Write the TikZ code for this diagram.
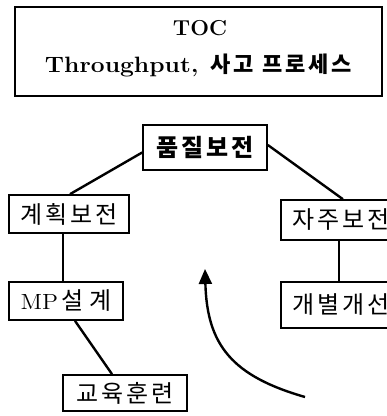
\documentclass[tikz,border=0pt]{standalone}
\usepackage{fontspec}
\newfontfamily\kr{Noto Sans CJK KR}
\newcommand\kgap{\hspace{3pt}}
\usetikzlibrary{arrows.meta}
\begin{document}
\begin{tikzpicture}[x=1pt,y=-1pt,
  box/.style={draw,line width=1.7pt,inner sep=0pt,font=\kr\fontsize{24}{26}\selectfont},
  conn/.style={line width=2.4pt},
  ttl/.style={anchor=base,inner sep=0pt,font=\bfseries\fontsize{12}{14}\selectfont}]
\useasboundingbox (0,0) rectangle (387,416);
\clip (0,0) rectangle (387,416);
\fill[white] (0,0) rectangle (387,416);
% title box
\node[draw,line width=1.7pt,minimum width=367pt,minimum height=89pt,inner sep=0pt] (title) at (198.5,51.5) {};
\node[ttl] (toc) at (200,35) {\scalebox{1.85}[1.8]{TOC}};
\node[ttl] (thr) at (198.5,72) {\scalebox{2.05}[1.85]{Throughput,}\hspace{12pt}{\kr\fontsize{22}{24}\selectfont 사\kgap 고\hspace{8pt}프\kgap 로\kgap 세\kgap 스}};
% boxes
\node[box,minimum width=124pt,minimum height=45pt,font=\kr\bfseries\fontsize{24}{26}\selectfont] (pq) at (205,147.5) {품\kgap 질\kgap 보\kgap 전};
\node[box,minimum width=120pt,minimum height=38pt] (kh) at (69,214) {계\kgap 획\kgap 보\kgap 전};
\node[box,minimum width=120pt,minimum height=40pt,anchor=west] (jj) at (280,220) {자\kgap 주\kgap 보\kgap 전};
\node[box,minimum width=114pt,minimum height=38pt] (mp) at (66,301) {\scalebox{2}[1.83]{\rmfamily\fontsize{12}{14}\selectfont MP}\hspace{3pt}설\hspace{6pt}계};
\node[box,minimum width=120pt,minimum height=46pt,anchor=west] (gb) at (280,305) {개\kgap 별\kgap 개\kgap 선};
\node[box,minimum width=124pt,minimum height=36pt] (gy) at (125,393) {교\kgap 육\kgap 훈\kgap 련};
% connectors
\draw[conn] ([yshift=-5pt]pq.west) -- ([xshift=1pt]kh.north);
\draw[conn] ([yshift=2.5pt]pq.east) -- ([xshift=2pt]jj.north);
\draw[conn] ([xshift=-6pt]kh.south) -- ([xshift=-3pt]mp.north);
\draw[conn] ([xshift=-2pt]jj.south) -- ([xshift=-2pt]gb.north);
\draw[conn] ([xshift=9pt]mp.south) -- ([xshift=-13pt]gy.north);
% curved arrow
\coordinate (as) at (305,397);
\coordinate (ae) at (205,269);
\draw[conn,-{Triangle[length=15pt,width=13pt]}] (as) .. controls (232,376) and (207,345) .. (ae);
\end{tikzpicture}
\end{document}
